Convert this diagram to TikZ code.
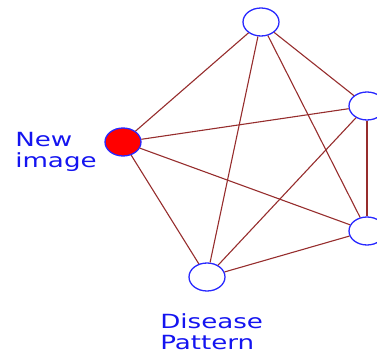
\documentclass[tikz,border=0pt]{standalone}
\usepackage{fontspec}
\newfontfamily\labelfont{DejaVu Sans}
\usetikzlibrary{shapes.geometric}
\definecolor{edgered}{RGB}{150,45,45}
\definecolor{ringblue}{RGB}{40,40,255}
\definecolor{textblue}{RGB}{20,20,240}
\tikzset{
  pnode/.style={draw=ringblue,line width=1.3pt,ellipse,fill=white,minimum width=36pt,minimum height=28pt,inner sep=0pt},
  qnode/.style={pnode,fill=red},
  link/.style={draw=edgered,line width=1.1pt},
  tag/.style={text=textblue,font=\labelfont\fontsize{19.5}{21.5}\selectfont,align=left,inner sep=0pt,anchor=north west,xscale=1.34}
}
\begin{document}
\begin{tikzpicture}[x=1pt,y=1pt]
\useasboundingbox (0,0) rectangle (377,356);
\clip (0,0) rectangle (377,356);
\node[qnode] (q) at (123,214) {};
\node[pnode] (p1) at (261,334) {};
\node[pnode] (p2) at (367,250) {};
\node[pnode] (p3) at (367,125) {};
\node[pnode] (p4) at (207,79) {};
\draw[link] (q) -- (p1);
\draw[link] (q) -- (p2);
\draw[link] (q) -- (p3);
\draw[link] (q) -- (p4);
\draw[link] (p1) -- (p2);
\draw[link] (p1) -- (p3);
\draw[link] (p1) -- (p4);
\draw[link] (p2) -- (p3);
\draw[link] (p2) -- (p4);
\draw[link] (p3) -- (p4);
\node[tag] (newlbl) at (15,224) {New\\image};
\node[tag] (dislbl) at (160,43) {Disease\\Pattern};
\end{tikzpicture}
\end{document}
